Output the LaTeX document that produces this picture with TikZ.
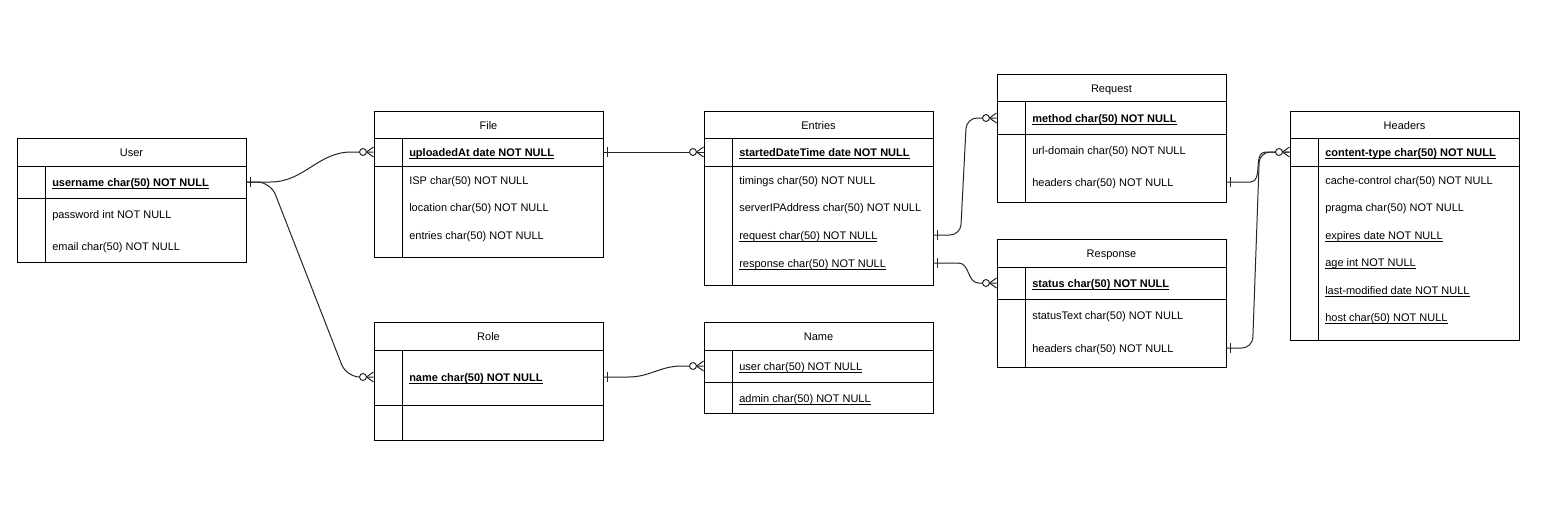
\documentclass[tikz,border=0pt]{standalone}
\usepackage{fontspec}
\setmainfont{Liberation Sans}
\usetikzlibrary{fit,calc}
\newcommand{\ertbl}[7]{%
  \node[tbl, fit={(#2,#3)(#4,#5)}] (#1) {};
  \draw[ln] (#2,#6) -- (#4,#6) (#2,#7) -- (#4,#7) (#2+28,#6) -- (#2+28,#5);
}
\newcommand{\ulx}[1]{\underline{\smash{#1}}}
\begin{document}
\begin{tikzpicture}[x=0.75pt,y=-0.75pt,
  tbl/.style={draw, line width=0.75pt, inner sep=0pt},
  ln/.style={line width=0.75pt},
  ttl/.style={font=\fontsize{8.25}{10}\selectfont, inner sep=0pt, text height=7.5pt, text depth=0.8pt},
  fld/.style={ttl, anchor=west},
  conn/.style={line width=0.75pt, draw=black!85},
  onemark/.pic={\draw[conn] (4,-5) -- (4,5);},
  manymark/.pic={\draw[conn] (0,-5) -- (-7,0) -- (0,5);
                 \draw[conn, fill=white] (-10.5,0) circle[radius=2.6pt];}
]
\fill[white] (0,0) rectangle (1560,518);
\useasboundingbox (0,0) rectangle (1560,518);

% ---------- User ----------
\ertbl{user}{17}{138}{246}{262}{166}{198}
\node[ttl] (userT) at (131.5,152) {User};
\node[fld] (uname) at (52,182) {\textbf{\ulx{username char(50) NOT NULL}}};
\node[fld] (upass) at (52,214) {password int NOT NULL};
\node[fld] (umail) at (52,246) {email char(50) NOT NULL};

% ---------- File ----------
\ertbl{file}{374}{111}{603}{257}{138}{166}
\node[ttl] (fileT) at (488.5,125) {File};
\node[fld] (fup) at (409,152) {\textbf{\ulx{uploadedAt date NOT NULL}}};
\node[fld] (fisp) at (409,180) {ISP char(50) NOT NULL};
\node[fld] (floc) at (409,207) {location char(50) NOT NULL};
\node[fld] (fent) at (409,235) {entries char(50) NOT NULL};

% ---------- Entries ----------
\ertbl{entries}{704}{111}{933}{285}{138}{166}
\node[ttl] (entriesT) at (818.5,125) {Entries};
\node[fld] (estart) at (739,152) {\textbf{\ulx{startedDateTime date NOT NULL}}};
\node[fld] (etim) at (739,180) {timings char(50) NOT NULL};
\node[fld] (eserv) at (739,207) {serverIPAddress char(50) NOT NULL};
\node[fld] (ereq) at (739,235) {\ulx{request char(50) NOT NULL}};
\node[fld] (eresp) at (739,263) {\ulx{response char(50) NOT NULL}};

% ---------- Request ----------
\ertbl{request}{997}{74}{1226}{202}{101}{134}
\node[ttl] (requestT) at (1111.5,88) {Request};
\node[fld] (rmethod) at (1032,118) {\textbf{\ulx{method char(50) NOT NULL}}};
\node[fld] (rurl) at (1032,150) {url-domain char(50) NOT NULL};
\node[fld] (rqhead) at (1032,182) {headers char(50) NOT NULL};

% ---------- Response ----------
\ertbl{response}{997}{239}{1226}{367}{267}{299}
\node[ttl] (responseT) at (1111.5,253) {Response};
\node[fld] (rstatus) at (1032,283) {\textbf{\ulx{status char(50) NOT NULL}}};
\node[fld] (rstext) at (1032,315) {statusText char(50) NOT NULL};
\node[fld] (rshead) at (1032,348) {headers char(50) NOT NULL};

% ---------- Headers ----------
\ertbl{headers}{1290}{111}{1519}{340}{138}{166}
\node[ttl] (headersT) at (1404.5,125) {Headers};
\node[fld] (hct) at (1325,152) {\textbf{\ulx{content-type char(50) NOT NULL}}};
\node[fld] (hcc) at (1325,180) {cache-control char(50) NOT NULL};
\node[fld] (hpr) at (1325,207) {pragma char(50) NOT NULL};
\node[fld] (hexp) at (1325,235) {\ulx{expires date NOT NULL}};
\node[fld] (hage) at (1325,262) {\ulx{age int NOT NULL}};
\node[fld] (hlm) at (1325,290) {\ulx{last-modified date NOT NULL}};
\node[fld] (hhost) at (1325,317) {\ulx{host char(50) NOT NULL}};

% ---------- Role ----------
\ertbl{role}{374}{322}{603}{440}{350}{405}
\node[ttl] (roleT) at (488.5,336) {Role};
\node[fld] (rname) at (409,377) {\textbf{\ulx{name char(50) NOT NULL}}};

% ---------- Name ----------
\ertbl{namet}{704}{322}{933}{413}{350}{382}
\node[ttl] (nametT) at (818.5,336) {Name};
\node[fld] (nuser) at (739,366) {\ulx{user char(50) NOT NULL}};
\node[fld] (nadmin) at (739,398) {\ulx{admin char(50) NOT NULL}};

% ---------- connectors ----------
\draw[conn] (user.east |- uname) -- ++(24,0) to[out=0,in=180] ($(file.west |- fup)+(-22,0)$) -- (file.west |- fup);
\draw[conn, rounded corners=10pt] (user.east |- uname) -- ++(24,0) -- ($(role.west |- rname)+(-27,0)$) -- (role.west |- rname);
\draw[conn] (file.east |- fup) -- (entries.west |- estart);
\draw[conn, rounded corners=8pt] (entries.east |- ereq) -- ++(27,0) -- ($(request.west |- rmethod)+(-30,0)$) -- (request.west |- rmethod);
\draw[conn] (entries.east |- eresp) -- ++(25,0) to[out=0,in=180] ($(response.west |- rstatus)+(-18,0)$) -- (response.west |- rstatus);
\draw[conn] (request.east |- rqhead) -- ++(24,0) to[out=0,in=180] ($(headers.west |- hct)+(-24,0)$) -- (headers.west |- hct);
\draw[conn, rounded corners=8pt] (response.east |- rshead) -- ++(26,0) -- ($(headers.west |- hct)+(-30,0)$) -- (headers.west |- hct);
\draw[conn] (role.east |- rname) -- ++(25,0) to[out=0,in=180] ($(namet.west |- nuser)+(-22,0)$) -- (namet.west |- nuser);

% ---------- end marks ----------
\pic at (user.east |- uname) {onemark};
\pic at (file.west |- fup) {manymark};
\pic at (role.west |- rname) {manymark};
\pic at (file.east |- fup) {onemark};
\pic at (entries.west |- estart) {manymark};
\pic at (entries.east |- ereq) {onemark};
\pic at (request.west |- rmethod) {manymark};
\pic at (entries.east |- eresp) {onemark};
\pic at (response.west |- rstatus) {manymark};
\pic at (request.east |- rqhead) {onemark};
\pic at (response.east |- rshead) {onemark};
\pic at (headers.west |- hct) {manymark};
\pic at (role.east |- rname) {onemark};
\pic at (namet.west |- nuser) {manymark};
\end{tikzpicture}
\end{document}
